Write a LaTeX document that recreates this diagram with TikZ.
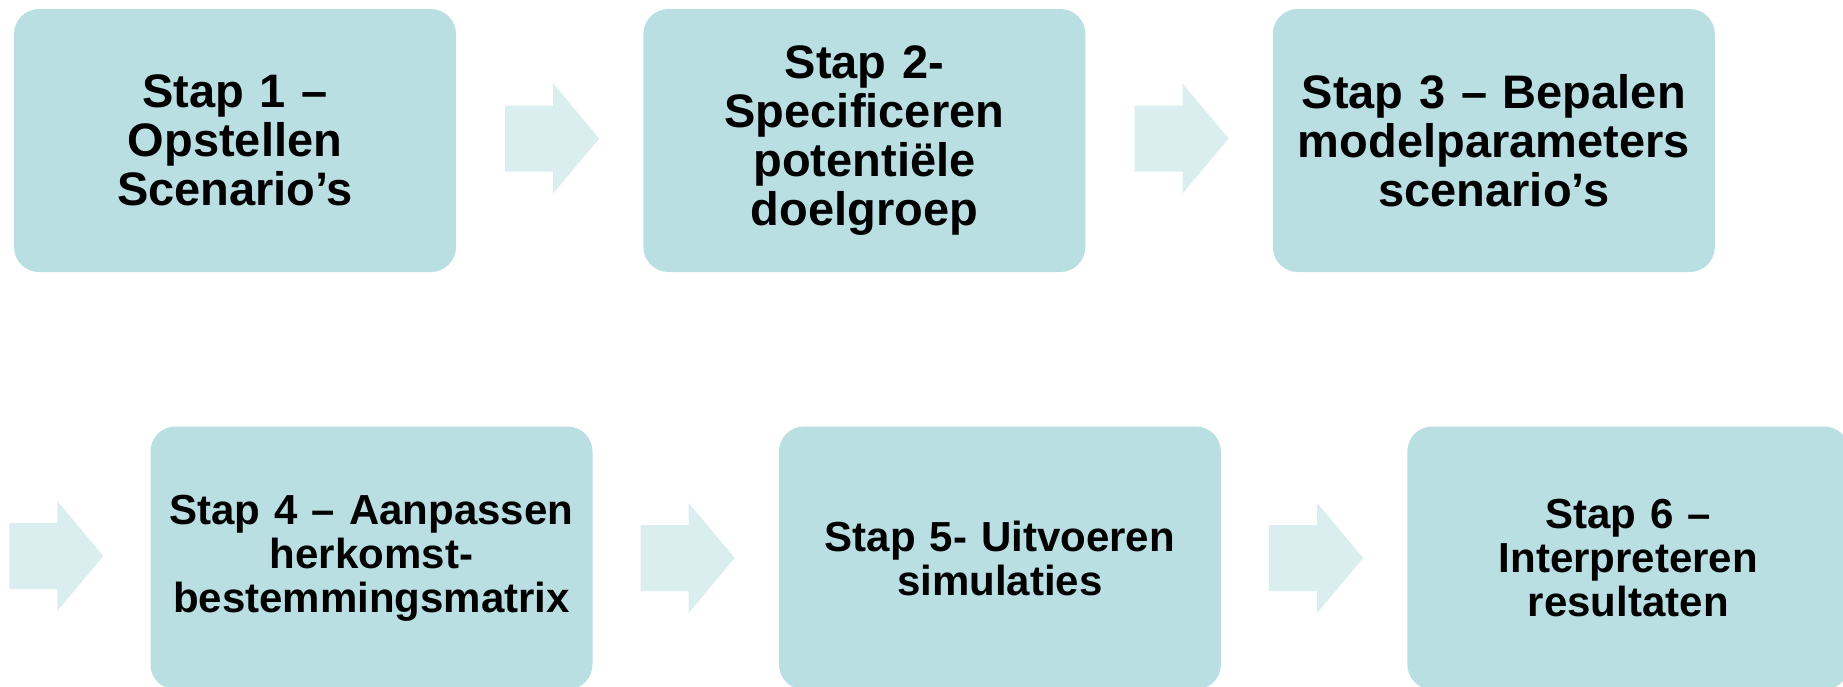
\documentclass[tikz,border=0pt]{standalone}
\usepackage{fontspec}
\setmainfont{Liberation Sans}
\usetikzlibrary{positioning}

\definecolor{stapfill}{HTML}{B9DFE3}
\definecolor{pijlfill}{HTML}{DAEDEF}

\tikzset{
    stapbox/.style={fill=stapfill, rounded corners=25pt, minimum height=263pt,
        text width=430pt, inner sep=6pt, align=center,
        font=\bfseries\fontsize{47}{49}\selectfont},
    onderrij/.style={font=\bfseries\fontsize{42}{44}\selectfont},
    pijl/.pic={
        \fill[pijlfill] (0,-33) -- (48,-33) -- (48,-55) -- (94,0) -- (48,55) -- (48,33) -- (0,33) -- cycle;
    }
}

\begin{document}
\begin{tikzpicture}[x=1pt,y=-1pt]
        \useasboundingbox (0,0) rectangle (1843,686);
        \clip (0,0) rectangle (1843,686);

        % bovenste rij
        \node[stapbox] (stap1) at (235,140.5) {Stap 1 –\\Opstellen\\Scenario’s};
        \node[stapbox, right=187pt of stap1] (stap2) {Stap 2-\\Specificeren\\potentiële\\doelgroep};
        \node[stapbox, right=187pt of stap2] (stap3) {Stap 3 – Bepalen\\modelparameters\\scenario’s};

        % onderste rij
        \node[stapbox, onderrij] (stap4) at (371.5,558) {Stap 4 – Aanpassen\\herkomst-\\bestemmingsmatrix};
        \node[stapbox, onderrij, right=186pt of stap4] (stap5) {Stap 5- Uitvoeren\\simulaties};
        \node[stapbox, onderrij, right=186pt of stap5] (stap6) {Stap 6 –\\Interpreteren\\resultaten};

        \pic at ([xshift=49pt,yshift=2pt]stap1.east) {pijl};
        \pic at ([xshift=49pt,yshift=2pt]stap2.east) {pijl};
        \pic at ([xshift=-141pt,yshift=2pt]stap4.west) {pijl};
        \pic at ([xshift=48pt]stap4.east) {pijl};
        \pic at ([xshift=48pt]stap5.east) {pijl};
    \end{tikzpicture}
\end{document}
